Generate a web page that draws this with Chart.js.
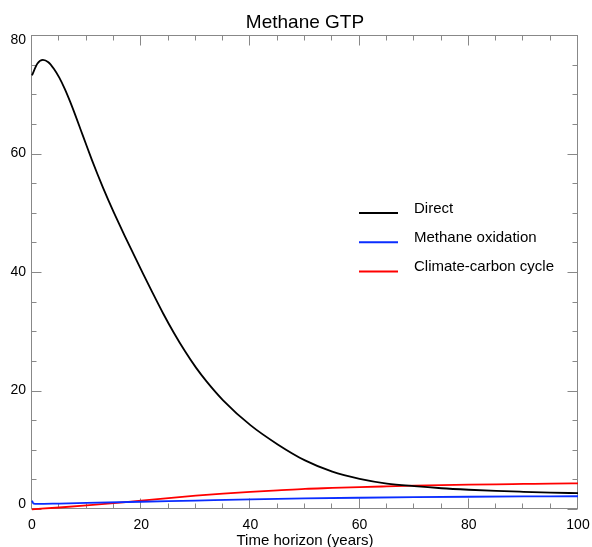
<!DOCTYPE html>
<html><head><meta charset="utf-8">
<script src="https://cdn.jsdelivr.net/npm/chart.js@4/dist/chart.umd.min.js"></script>
<style>html,body{margin:0;padding:0;background:#fff;overflow:hidden}#wrap{width:592px;height:547px}</style>
</head><body><div id="wrap"><canvas id="c" width="592" height="547"></canvas></div>
<script>
const chartTitle = "Methane GTP";
const xAxisTitle = "Time horizon (years)";
const seriesNames = ["Direct", "Methane oxidation", "Climate-carbon cycle"];
const seriesColors = ["#000000", "#0a2dff", "#ff0000"];

const directYears  = [0, 1, 2, 3, 4, 5, 6, 7, 8, 9, 10, 11, 12, 13, 14, 15, 16, 17, 18, 19, 20, 22, 24, 26, 28, 30, 32, 35, 40, 45, 50, 55, 60, 65, 70, 75, 80, 85, 90, 95, 100];
const directValues = [73.2, 75.2, 75.8, 75.4, 74.3, 72.8, 70.9, 68.7, 66.3, 63.8, 61.3, 58.85, 56.5, 54.25, 52.1, 50.03, 48.03, 46.07, 44.14, 42.24, 40.36, 36.64, 33.04, 29.7, 26.65, 23.9, 21.5, 18.35, 14.15, 10.9, 8.2, 6.3, 5.1, 4.3, 3.85, 3.5, 3.25, 3.05, 2.9, 2.77, 2.67];

const oxidationYears  = [0, 0.3, 1, 5, 10, 20, 30, 40, 50, 60, 70, 80, 90, 100];
const oxidationValues = [1.4, 0.9, 0.85, 0.92, 1.02, 1.22, 1.42, 1.62, 1.78, 1.9, 2.0, 2.07, 2.12, 2.15];

const carbonYears  = [0, 5, 10, 15, 20, 25, 30, 35, 40, 45, 50, 55, 60, 65, 70, 75, 80, 85, 90, 95, 100];
const carbonValues = [-0.05, 0.25, 0.6, 1.0, 1.4, 1.85, 2.25, 2.6, 2.9, 3.15, 3.4, 3.55, 3.7, 3.82, 3.93, 4.02, 4.1, 4.17, 4.23, 4.29, 4.34];

const xTickValues = [0, 20, 40, 60, 80, 100];
const yTickValues = [0, 20, 40, 60, 80];
const minorStep = 5;

const FONT = "'Liberation Sans', Arial, Helvetica, sans-serif";

function pts(xs, ys) { return xs.map((x, i) => ({ x: x, y: ys[i] })); }

const frame = {
  id: 'frame',
  beforeDatasetsDraw(chart) {
    const { ctx, chartArea: a, scales } = chart;
    const xs = scales.x, ys = scales.y;
    ctx.save();
    ctx.strokeStyle = '#888888';
    ctx.lineWidth = 1;
    const L = Math.round(a.left) - 0.5, R = Math.round(a.right) - 0.5;
    const T = Math.round(a.top) + 0.5, B = Math.round(a.bottom) - 0.5;
    ctx.strokeRect(L, T, R - L, B - T);
    ctx.beginPath();
    for (let v = xs.min; v <= xs.max + 1e-9; v += minorStep) {
      const px = Math.round(xs.getPixelForValue(v)) - 0.5;
      const len = xTickValues.includes(v) ? 10 : 5;
      ctx.moveTo(px, B); ctx.lineTo(px, B - len);
      ctx.moveTo(px, T); ctx.lineTo(px, T + len);
    }
    for (let v = ys.min; v <= ys.max + 1e-9; v += minorStep) {
      const py = Math.round(ys.getPixelForValue(v)) + 0.5;
      const len = yTickValues.includes(v) ? 10 : 5;
      ctx.moveTo(L, py); ctx.lineTo(L + len, py);
      ctx.moveTo(R, py); ctx.lineTo(R - len, py);
    }
    ctx.stroke();
    ctx.restore();
  },
  afterDraw(chart) {
    const { ctx, chartArea: a, scales } = chart;
    const cx = (a.left + a.right) / 2;
    ctx.save();
    ctx.fillStyle = '#000';
    // y tick labels, kept inside the frame at the ends
    ctx.font = '14px ' + FONT;
    ctx.textAlign = 'right';
    ctx.textBaseline = 'middle';
    scales.y.ticks.forEach(t => {
      let py = scales.y.getPixelForValue(t.value);
      py = Math.min(Math.max(py, a.top + 5), a.bottom - 5);
      ctx.fillText(String(t.value), a.left - 6, py);
    });
    ctx.textAlign = 'center';
    ctx.textBaseline = 'alphabetic';
    ctx.font = '19px ' + FONT;
    ctx.fillText(chartTitle, cx, 28);
    ctx.font = '15px ' + FONT;
    ctx.fillText(xAxisTitle, cx, 545);
    ctx.textAlign = 'left';
    ctx.textBaseline = 'middle';
    chart.data.datasets.forEach((ds, i) => {
      const ly = 213 + i * 29.3;
      ctx.strokeStyle = ds.borderColor;
      ctx.lineWidth = 2;
      ctx.beginPath();
      ctx.moveTo(359, ly); ctx.lineTo(398, ly);
      ctx.stroke();
      ctx.fillText(ds.label, 414, ly - 4.5);
    });
    ctx.restore();
  }
};

const seriesData = [pts(directYears, directValues), pts(oxidationYears, oxidationValues), pts(carbonYears, carbonValues)];

new Chart(document.getElementById('c'), {
  type: 'line',
  data: {
    datasets: seriesNames.map((n, i) => ({
      label: n,
      data: seriesData[i],
      borderColor: seriesColors[i],
      borderWidth: 1.8,
      pointRadius: 0,
      fill: false,
      cubicInterpolationMode: 'monotone',
      clip: false
    }))
  },
  options: {
    responsive: false,
    animation: false,
    devicePixelRatio: 1,
    layout: { padding: { left: 0, right: 14, top: 35, bottom: 0 } },
    plugins: { legend: { display: false }, title: { display: false }, tooltip: { enabled: false } },
    scales: {
      x: {
        type: 'linear', min: 0, max: 100,
        afterFit(s) { s.height = 38; s.paddingLeft = 0; s.paddingRight = 0; },
        afterBuildTicks(s) { s.ticks = xTickValues.map(v => ({ value: v })); },
        grid: { display: false, drawTicks: false },
        border: { display: false },
        ticks: { padding: 8, color: '#000', font: { family: FONT, size: 14 }, maxRotation: 0 }
      },
      y: {
        type: 'linear', min: 0, max: 80,
        afterFit(s) { s.width = 32; s.paddingTop = 0; s.paddingBottom = 0; },
        afterBuildTicks(s) { s.ticks = yTickValues.map(v => ({ value: v })); },
        grid: { display: false, drawTicks: false },
        border: { display: false },
        ticks: { display: false, padding: 6, color: '#000', font: { family: FONT, size: 14 } }
      }
    }
  },
  plugins: [frame]
});
</script></body></html>
